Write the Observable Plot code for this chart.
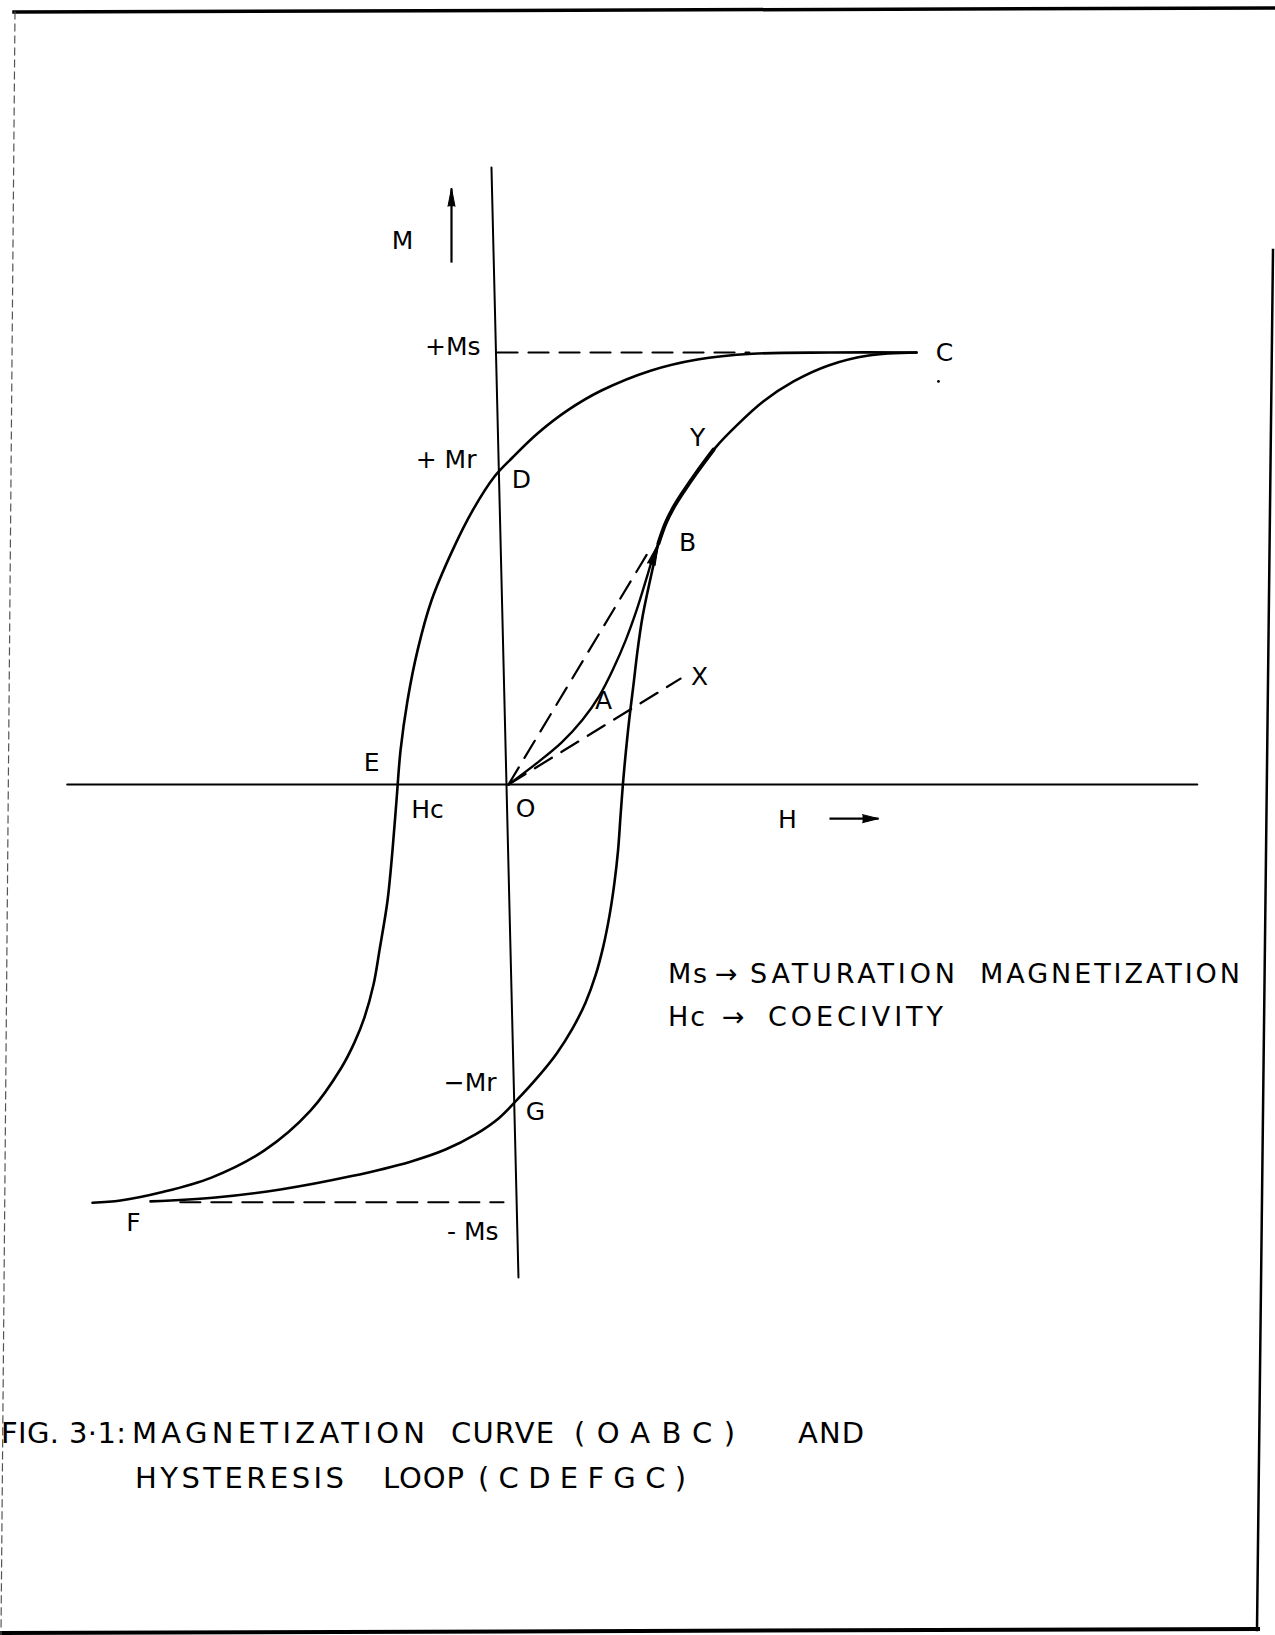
<!DOCTYPE html>
<html>
<head>
<meta charset="utf-8">
<script src="https://cdn.jsdelivr.net/npm/d3@7"></script>
<script src="https://cdn.jsdelivr.net/npm/@observablehq/plot@0.6"></script>
<style>
  body { margin: 0; background: #fff; }
  #page { position: relative; width: 1275px; height: 1635px; overflow: hidden; background: #fff; }
  #chart { position: absolute; left: 0; top: 0; }
  #overlay { position: absolute; left: 0; top: 0; pointer-events: none; }
  #overlay text { font-family: "DejaVu Sans", sans-serif; fill: #000; white-space: pre; }
</style>
</head>
<body>
<div id="page">
  <div id="chart"></div>
  <svg id="overlay" width="1275" height="1635"></svg>
</div>
<script>
// Field H in units of the coercive field, magnetization M in units of Ms.

// Hysteresis loop, upper/left branch: C -> D (+Mr) -> E (-Hc) -> F (-Ms)
const descendingBranch = [
  [3.643, 1.0], [2.875, 1.0], [2.179, 0.997], [1.6875, 0.984], [1.268, 0.958],
  [0.83, 0.912], [0.527, 0.866], [0.259, 0.8125], [0.036, 0.757], [-0.125, 0.713],
  [-0.321, 0.634], [-0.5, 0.542], [-0.6875, 0.426], [-0.8125, 0.31], [-0.902, 0.194],
  [-0.964, 0.079], [-1.0, -0.037], [-1.036, -0.153], [-1.08, -0.2685], [-1.152, -0.384],
  [-1.205, -0.463], [-1.286, -0.539], [-1.375, -0.597], [-1.491, -0.655], [-1.768, -0.755],
  [-2.179, -0.847], [-2.652, -0.91], [-3.098, -0.944], [-3.464, -0.963], [-3.714, -0.968]
];

// Hysteresis loop, lower/right branch: F -> G (-Mr) -> +Hc -> C
const ascendingBranch = [
  [-3.196, -0.965], [-2.616, -0.956], [-2.036, -0.9375], [-1.411, -0.907], [-0.875, -0.873],
  [-0.5625, -0.845], [-0.295, -0.81], [-0.089, -0.773], [0.08, -0.729], [0.259, -0.678],
  [0.429, -0.623], [0.571, -0.565], [0.6875, -0.505], [0.777, -0.442], [0.848, -0.373],
  [0.902, -0.303], [0.946, -0.227], [0.978, -0.153], [1.0, -0.074], [1.022, 0.002],
  [1.049, 0.079], [1.08, 0.155], [1.116, 0.231], [1.152, 0.31], [1.196, 0.387],
  [1.25, 0.456], [1.295, 0.509], [1.339, 0.558], [1.402, 0.604], [1.473, 0.641],
  [1.5625, 0.678], [1.679, 0.722], [1.848, 0.78], [2.045, 0.833], [2.277, 0.887],
  [2.545, 0.933], [2.857, 0.97], [3.214, 0.993], [3.643, 1.0]
];

// Initial magnetization curve O -> A -> B, then along the loop towards Y
const virginCurve = [
  [0, 0], [0.25, 0.049], [0.473, 0.097], [0.661, 0.15], [0.8125, 0.206],
  [0.9375, 0.269], [1.045, 0.333], [1.143, 0.403], [1.232, 0.477], [1.286, 0.523], [1.339, 0.558]
];
const virginOverlap = [[1.339, 0.558], [1.402, 0.604], [1.473, 0.641], [1.5625, 0.678], [1.679, 0.722], [1.83, 0.775]];

// Axes as drawn (the M axis leans slightly)
const hAxis = [[-3.94, 0], [6.15, 0]];
const mAxis = [[-0.152, 1.428], [0.089, -1.141]];

// Saturation levels and the two chords from the origin
const plusMsLevel = [[-0.098, 1.0], [2.15, 1.0]];
const minusMsLevel = [[-2.93, -0.967], [-0.045, -0.967]];
const chordOB = [[0, 0], [1.241, 0.535]];
const chordOX = [[0, 0], [1.536, 0.245]];

// Arrow tip at B on the magnetization curve
const arrowB = [{h: 1.339, m: 0.558}];
// Direction arrows beside the axis names
const mArrow = [{h: -0.509, m1: 1.208, m2: 1.38}];
const hArrow = [{m: -0.079, h1: 2.866, h2: 3.304}];
const stray = [[3.839, 0.933]];

// Point and axis labels
const pointLabels = [
  {text: "M", h: -0.946, m: 1.259},
  {text: "C", h: 3.893, m: 1.0},
  {text: "D", h: 0.116, m: 0.704},
  {text: "Y", h: 1.688, m: 0.801},
  {text: "B", h: 1.598, m: 0.558},
  {text: "A", h: 0.848, m: 0.194},
  {text: "X", h: 1.705, m: 0.248},
  {text: "E", h: -1.223, m: 0.049},
  {text: "Hc", h: -0.723, m: -0.06},
  {text: "O", h: 0.152, m: -0.056},
  {text: "H", h: 2.491, m: -0.083},
  {text: "G", h: 0.241, m: -0.757},
  {text: "F", h: -3.348, m: -1.016}
];
const levelLabels = [
  {text: "+Ms", h: -0.25, m: 1.012},
  {text: "+ Mr", h: -0.286, m: 0.752},
  {text: "\u2212Mr", h: -0.107, m: -0.69},
  {text: "- Ms", h: -0.089, m: -1.035}
];

const legendLines = [
  ["Ms", "\u2192", "SATURATION", "MAGNETIZATION"],
  ["Hc", "\u2192", "COECIVITY"]
];
const captionLines = [
  ["FIG. 3\u00b71:", "MAGNETIZATION", "CURVE", "(OABC)", "AND"],
  ["HYSTERESIS", "LOOP", "(CDEFGC)"]
];

const ink = "#000";
const dash = "20,11";

const chart = Plot.plot({
  width: 1275,
  height: 1330,
  marginLeft: 60,
  marginRight: 95,
  marginTop: 92.8,
  marginBottom: 27.6,
  x: {domain: [-4, 6], axis: null},
  y: {domain: [-1.2, 1.6], axis: null},
  style: {background: "transparent", color: ink, fontFamily: "'DejaVu Sans', sans-serif"},
  marks: [
    Plot.line(hAxis, {stroke: ink, strokeWidth: 2}),
    Plot.line(mAxis, {stroke: ink, strokeWidth: 2}),
    Plot.line(plusMsLevel, {stroke: ink, strokeWidth: 2.2, strokeDasharray: dash}),
    Plot.line(minusMsLevel, {stroke: ink, strokeWidth: 2.2, strokeDasharray: dash}),
    Plot.line(chordOB, {stroke: ink, strokeWidth: 2.2, strokeDasharray: dash}),
    Plot.line(chordOX, {stroke: ink, strokeWidth: 2.2, strokeDasharray: dash}),
    Plot.line(descendingBranch, {curve: "catmull-rom", stroke: ink, strokeWidth: 2.6}),
    Plot.line(ascendingBranch, {curve: "catmull-rom", stroke: ink, strokeWidth: 2.6}),
    Plot.line(virginCurve, {curve: "catmull-rom", stroke: ink, strokeWidth: 2.4}),
    Plot.line(virginOverlap, {curve: "catmull-rom", stroke: ink, strokeWidth: 4}),
    Plot.vector(arrowB, {x: "h", y: "m", length: 22, rotate: 19, anchor: "end", shape: "spike", r: 4, fill: ink, stroke: ink, strokeWidth: 1}),
    Plot.link(mArrow, {x1: "h", x2: "h", y1: "m1", y2: "m2", stroke: ink, strokeWidth: 2.2}),
    Plot.vector(mArrow, {x: "h", y: "m2", length: 18, rotate: 0, anchor: "end", shape: "spike", r: 3.5, fill: ink, stroke: ink, strokeWidth: 1}),
    Plot.link(hArrow, {x1: "h1", x2: "h2", y1: "m", y2: "m", stroke: ink, strokeWidth: 2.2}),
    Plot.vector(hArrow, {x: "h2", y: "m", length: 16, rotate: 90, anchor: "end", shape: "spike", r: 4, fill: ink, stroke: ink, strokeWidth: 1}),
    Plot.dot(stray, {r: 1.4, fill: ink, stroke: null}),
    Plot.text(pointLabels, {x: "h", y: "m", text: "text", fontSize: 25, fill: ink}),
    Plot.text(levelLabels, {x: "h", y: "m", text: "text", fontSize: 25, fill: ink, textAnchor: "end"})
  ]
});
document.getElementById("chart").appendChild(chart);

// Page frame, legend and figure caption
const overlay = d3.select("#overlay");
const frame = overlay.append("g").attr("fill", "none").attr("stroke", ink).attr("stroke-linecap", "square");
frame.append("line").attr("x1", 14).attr("y1", 12).attr("x2", 1275).attr("y2", 8).attr("stroke-width", 3.5);
frame.append("line").attr("x1", 1273).attr("y1", 250).attr("x2", 1257).attr("y2", 1630).attr("stroke-width", 2.5);
frame.append("line").attr("x1", 0).attr("y1", 1633).attr("x2", 1258).attr("y2", 1629).attr("stroke-width", 4);
frame.append("line").attr("x1", 15).attr("y1", 12).attr("x2", 1).attr("y2", 1635)
  .attr("stroke-width", 1.2).attr("stroke", "#555").attr("stroke-dasharray", "7,5");

// Lettered lines: each word is fitted to its horizontal extent [left, right]
function letterLine(g, words, extents, baseline, size) {
  words.forEach((w, i) => {
    const [x0, x1] = extents[i];
    g.append("text")
      .attr("x", x0).attr("y", baseline)
      .attr("font-size", size)
      .attr("textLength", x1 - x0).attr("lengthAdjust", "spacing")
      .text(w);
  });
}
const legend = overlay.append("g");
letterLine(legend, legendLines[0], [[668, 707], [715, 742], [750, 955], [980, 1240]], 983, 27);
letterLine(legend, legendLines[1], [[668, 705], [722, 749], [768, 943]], 1026, 27);

const caption = overlay.append("g");
letterLine(caption, captionLines[0], [[1, 126], [132, 425], [451, 554], [574, 735], [798, 864]], 1443, 29);
letterLine(caption, captionLines[1], [[135, 344], [383, 464], [478, 686]], 1488, 29);
</script>
</body>
</html>
